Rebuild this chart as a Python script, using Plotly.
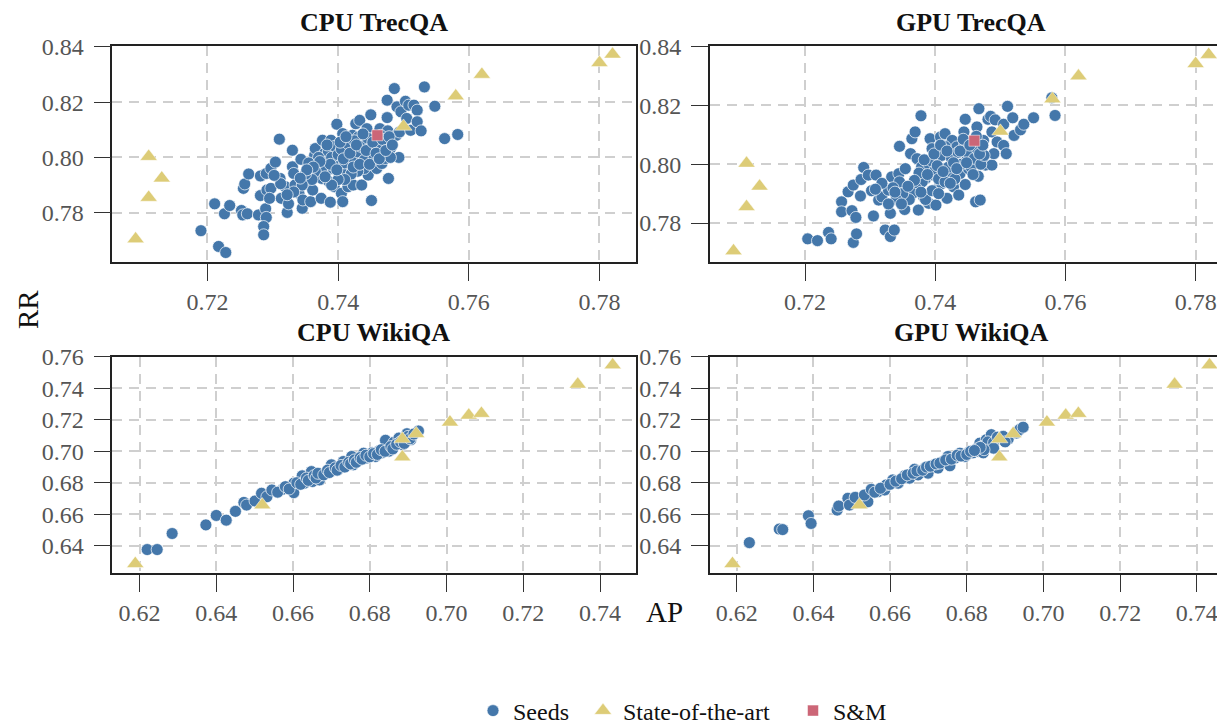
import plotly.graph_objects as go

# ---------------- data (AP, RR) ----------------
cpu_trec_seeds = [
    (0.7190, 0.7735), (0.7217, 0.7678), (0.7228, 0.7656), (0.7211, 0.7832), (0.7226, 0.7796),
    (0.7234, 0.7826), (0.7252, 0.7808), (0.7254, 0.7792), (0.7261, 0.7796), (0.7278, 0.7792),
    (0.7289, 0.7814), (0.7290, 0.7783), (0.7286, 0.7750), (0.7286, 0.7720), (0.7255, 0.7888),
    (0.7257, 0.7904), (0.7263, 0.7940), (0.7281, 0.7862), (0.7281, 0.7933), (0.7290, 0.7942),
    (0.7297, 0.7960), (0.7304, 0.7983), (0.7310, 0.8066), (0.7311, 0.7924), (0.7291, 0.7882),
    (0.7297, 0.7888), (0.7295, 0.7852), (0.7313, 0.7852), (0.7319, 0.7894), (0.7322, 0.7801),
    (0.7324, 0.7832), (0.7330, 0.8026), (0.7330, 0.7966), (0.7332, 0.7942), (0.7334, 0.7900),
    (0.7340, 0.7870), (0.7343, 0.7993), (0.7345, 0.7816), (0.7346, 0.7846), (0.7353, 0.7912),
    (0.7358, 0.7840), (0.7361, 0.7882), (0.7364, 0.8008), (0.7365, 0.8032), (0.7366, 0.7972),
    (0.7369, 0.7936), (0.7374, 0.7852), (0.7375, 0.7924), (0.7376, 0.8062), (0.7379, 0.8014),
    (0.7381, 0.7996), (0.7384, 0.7954), (0.7386, 0.7912), (0.7388, 0.7838), (0.7389, 0.8062),
    (0.7392, 0.7960), (0.7394, 0.7894), (0.7396, 0.8038), (0.7398, 0.8120), (0.7400, 0.7990),
    (0.7402, 0.7948), (0.7405, 0.7870), (0.7407, 0.7840), (0.7407, 0.8086), (0.7410, 0.8008),
    (0.7413, 0.7942), (0.7415, 0.7894), (0.7418, 0.8062), (0.7419, 0.7972), (0.7422, 0.8080),
    (0.7423, 0.7900), (0.7426, 0.8026), (0.7427, 0.8122), (0.7428, 0.7984), (0.7431, 0.8074),
    (0.7433, 0.8134), (0.7436, 0.7900), (0.7437, 0.8050), (0.7439, 0.8008), (0.7441, 0.7966),
    (0.7444, 0.8104), (0.7446, 0.7936), (0.7448, 0.8038), (0.7450, 0.8154), (0.7451, 0.7844),
    (0.7453, 0.7990), (0.7457, 0.8062), (0.7459, 0.7960), (0.7462, 0.8014), (0.7464, 0.8104),
    (0.7467, 0.7978), (0.7470, 0.8050), (0.7472, 0.7996), (0.7475, 0.8144), (0.7475, 0.8207),
    (0.7476, 0.8096), (0.7477, 0.7924), (0.7480, 0.8032), (0.7486, 0.8249), (0.7489, 0.8080),
    (0.7490, 0.8183), (0.7493, 0.8000), (0.7494, 0.8092), (0.7496, 0.8165), (0.7503, 0.8203),
    (0.7505, 0.8141), (0.7508, 0.8189), (0.7511, 0.8098), (0.7516, 0.8189), (0.7521, 0.8171),
    (0.7521, 0.8129), (0.7527, 0.8096), (0.7532, 0.8255), (0.7548, 0.8185), (0.7563, 0.8068),
    (0.7583, 0.8083),
    (0.7380, 0.7990), (0.7385, 0.8020), (0.7390, 0.8000), (0.7395, 0.8040), (0.7400, 0.8010),
    (0.7405, 0.8030), (0.7410, 0.7980), (0.7415, 0.8050), (0.7420, 0.8000), (0.7425, 0.8060),
    (0.7430, 0.8020), (0.7435, 0.8040), (0.7440, 0.7990), (0.7445, 0.8070), (0.7450, 0.8030),
    (0.7455, 0.8000), (0.7460, 0.8040), (0.7465, 0.8080), (0.7470, 0.8010), (0.7475, 0.8060),
    (0.7480, 0.8000), (0.7375, 0.7960), (0.7370, 0.8000), (0.7365, 0.7950), (0.7360, 0.7920),
    (0.7355, 0.7980), (0.7350, 0.7940), (0.7345, 0.7900), (0.7440, 0.7960), (0.7430, 0.7950),
    (0.7420, 0.7940), (0.7410, 0.7920), (0.7400, 0.7920), (0.7390, 0.7900), (0.7380, 0.7930),
    (0.7383, 0.8045), (0.7388, 0.7975), (0.7398, 0.7955), (0.7403, 0.8055), (0.7408, 0.7995),
    (0.7412, 0.8075), (0.7418, 0.8015), (0.7423, 0.7965), (0.7428, 0.8045), (0.7433, 0.7975),
    (0.7438, 0.8085), (0.7443, 0.8025), (0.7448, 0.7975), (0.7453, 0.8055), (0.7458, 0.8015),
    (0.7463, 0.7995), (0.7468, 0.8065), (0.7473, 0.8025), (0.7478, 0.8075), (0.7483, 0.8045),
    (0.7372, 0.7985), (0.7362, 0.7965), (0.7352, 0.7955), (0.7342, 0.7925), (0.7332, 0.7875),
    (0.7322, 0.7865), (0.7312, 0.7905), (0.7302, 0.7935),
]

gpu_trec_seeds = [
    (0.7204, 0.7746), (0.7219, 0.7740), (0.7236, 0.7768), (0.7240, 0.7746), (0.7274, 0.7734),
    (0.7279, 0.7763), (0.7256, 0.7872), (0.7256, 0.7838), (0.7272, 0.7842), (0.7278, 0.7819),
    (0.7266, 0.7906), (0.7274, 0.7929), (0.7285, 0.7892), (0.7286, 0.7948), (0.7290, 0.7989),
    (0.7297, 0.7963), (0.7309, 0.7963), (0.7302, 0.7910), (0.7305, 0.7824), (0.7313, 0.7878),
    (0.7318, 0.7889), (0.7323, 0.7776), (0.7331, 0.7754), (0.7337, 0.7776), (0.7331, 0.7833),
    (0.7328, 0.7912), (0.7333, 0.7957), (0.7344, 0.7968), (0.7354, 0.7985), (0.7353, 0.7846),
    (0.7345, 0.8061), (0.7341, 0.7918), (0.7349, 0.7889), (0.7362, 0.8036), (0.7364, 0.8087),
    (0.7369, 0.8110), (0.7372, 0.8019), (0.7374, 0.7923), (0.7374, 0.7844), (0.7378, 0.8165),
    (0.7379, 0.7991), (0.7382, 0.7889), (0.7385, 0.7951), (0.7390, 0.7867), (0.7392, 0.8087),
    (0.7395, 0.8053), (0.7397, 0.7963), (0.7400, 0.7912), (0.7401, 0.7861), (0.7405, 0.8025),
    (0.7408, 0.8093), (0.7410, 0.7934), (0.7413, 0.7985), (0.7415, 0.8104), (0.7418, 0.7884),
    (0.7421, 0.8036), (0.7423, 0.7963), (0.7426, 0.8081), (0.7428, 0.7923), (0.7431, 0.8002),
    (0.7433, 0.8059), (0.7436, 0.7895), (0.7438, 0.7968), (0.7444, 0.8110), (0.7446, 0.8153),
    (0.7446, 0.7931), (0.7449, 0.8025), (0.7451, 0.7985), (0.7456, 0.8059), (0.7462, 0.7872),
    (0.7464, 0.8127), (0.7467, 0.8189), (0.7466, 0.7959), (0.7469, 0.7878), (0.7472, 0.8025),
    (0.7474, 0.8081), (0.7477, 0.7997), (0.7481, 0.8153), (0.7485, 0.8163), (0.7487, 0.8110),
    (0.7487, 0.7997), (0.7490, 0.8036), (0.7492, 0.8151), (0.7495, 0.8076), (0.7505, 0.8136),
    (0.7505, 0.8064), (0.7509, 0.8036), (0.7511, 0.8197), (0.7519, 0.8158), (0.7521, 0.8098),
    (0.7531, 0.8117), (0.7536, 0.8136), (0.7551, 0.8158), (0.7579, 0.8226), (0.7584, 0.8166),
    (0.7390, 0.8000), (0.7395, 0.8010), (0.7400, 0.7980), (0.7405, 0.7950), (0.7410, 0.8030),
    (0.7415, 0.8060), (0.7420, 0.7990), (0.7425, 0.8020), (0.7430, 0.7950), (0.7435, 0.8040),
    (0.7440, 0.8000), (0.7445, 0.8070), (0.7450, 0.8040), (0.7455, 0.7990), (0.7460, 0.8020),
    (0.7465, 0.8050), (0.7470, 0.8000), (0.7475, 0.8030), (0.7380, 0.7940), (0.7375, 0.7970),
    (0.7370, 0.7920), (0.7365, 0.7900), (0.7360, 0.7880), (0.7350, 0.7900), (0.7345, 0.7940),
    (0.7340, 0.7880), (0.7335, 0.7920), (0.7385, 0.7880), (0.7395, 0.7910), (0.7405, 0.7900),
    (0.7415, 0.7940),
    (0.7383, 0.8015), (0.7388, 0.7965), (0.7398, 0.8035), (0.7403, 0.7995), (0.7408, 0.8065),
    (0.7412, 0.7975), (0.7418, 0.8045), (0.7423, 0.7935), (0.7428, 0.8005), (0.7433, 0.7985),
    (0.7438, 0.8045), (0.7443, 0.8085), (0.7448, 0.8005), (0.7453, 0.8065), (0.7458, 0.7965),
    (0.7463, 0.8095), (0.7468, 0.8035), (0.7473, 0.8065), (0.7378, 0.7905), (0.7368, 0.7945),
    (0.7358, 0.7925), (0.7348, 0.7865), (0.7338, 0.7905), (0.7328, 0.7865), (0.7318, 0.7935),
    (0.7308, 0.7915),
]

trec_sota = [
    (0.7110, 0.8003), (0.7130, 0.7925), (0.7110, 0.7855), (0.7090, 0.7705), (0.7500, 0.8112),
    (0.7580, 0.8222), (0.7620, 0.8300), (0.7800, 0.8342), (0.7820, 0.8373),
]
trec_sm = [(0.7460, 0.8080)]

cpu_wiki_seeds = [
    (0.6220, 0.6375), (0.6246, 0.6375), (0.6285, 0.6477), (0.6373, 0.6532), (0.6400, 0.6592),
    (0.6426, 0.6562), (0.6450, 0.6618), (0.6472, 0.6675), (0.6479, 0.6658), (0.6501, 0.6684),
    (0.6518, 0.6733), (0.6532, 0.6711), (0.6545, 0.6754), (0.6573, 0.6758), (0.6602, 0.6797),
    (0.6602, 0.6737), (0.6624, 0.6844), (0.6629, 0.6797), (0.6648, 0.6871), (0.6651, 0.6808),
    (0.6669, 0.6818), (0.6673, 0.6850), (0.6686, 0.6861), (0.6700, 0.6914), (0.6704, 0.6878),
    (0.6722, 0.6893), (0.6731, 0.6935), (0.6739, 0.6908), (0.6753, 0.6967), (0.6757, 0.6914),
    (0.6770, 0.6946), (0.6784, 0.6988), (0.6792, 0.6957), (0.6806, 0.6990), (0.6815, 0.6967),
    (0.6823, 0.7001), (0.6832, 0.6990), (0.6841, 0.7070), (0.6850, 0.7001), (0.6863, 0.7057),
    (0.6876, 0.7084), (0.6885, 0.7042), (0.6897, 0.7112), (0.6907, 0.7074), (0.6927, 0.7129),
    (0.6560, 0.6740), (0.6580, 0.6775), (0.6590, 0.6760), (0.6610, 0.6800), (0.6620, 0.6790),
    (0.6635, 0.6830), (0.6640, 0.6815), (0.6655, 0.6845), (0.6660, 0.6830), (0.6665, 0.6860),
    (0.6680, 0.6850), (0.6690, 0.6880), (0.6695, 0.6865), (0.6710, 0.6895), (0.6715, 0.6880),
    (0.6725, 0.6910), (0.6735, 0.6900), (0.6745, 0.6930), (0.6750, 0.6920), (0.6760, 0.6945),
    (0.6765, 0.6930), (0.6775, 0.6960), (0.6780, 0.6950), (0.6790, 0.6975), (0.6800, 0.6965),
    (0.6810, 0.6985), (0.6820, 0.6980), (0.6830, 0.7010), (0.6840, 0.7000), (0.6855, 0.7030),
    (0.6860, 0.7015), (0.6870, 0.7045), (0.6880, 0.7060), (0.6890, 0.7050), (0.6900, 0.7095),
    (0.6905, 0.7080), (0.6915, 0.7110),
]

gpu_wiki_seeds = [
    (0.6233, 0.6419), (0.6311, 0.6505), (0.6320, 0.6502), (0.6387, 0.6590), (0.6394, 0.6541),
    (0.6462, 0.6626), (0.6466, 0.6652), (0.6490, 0.6701), (0.6494, 0.6658), (0.6509, 0.6707),
    (0.6542, 0.6679), (0.6533, 0.6722), (0.6551, 0.6758), (0.6568, 0.6743), (0.6586, 0.6754),
    (0.6590, 0.6786), (0.6607, 0.6818), (0.6621, 0.6797), (0.6638, 0.6844), (0.6651, 0.6829),
    (0.6664, 0.6886), (0.6673, 0.6850), (0.6690, 0.6893), (0.6699, 0.6861), (0.6716, 0.6914),
    (0.6725, 0.6893), (0.6738, 0.6935), (0.6751, 0.6967), (0.6756, 0.6908), (0.6769, 0.6957),
    (0.6782, 0.6988), (0.6795, 0.6967), (0.6803, 0.6990), (0.6816, 0.6990), (0.6830, 0.7001),
    (0.6834, 0.7052), (0.6843, 0.6990), (0.6851, 0.7074), (0.6864, 0.7106), (0.6864, 0.7042),
    (0.6877, 0.7074), (0.6890, 0.7084), (0.6908, 0.7078), (0.6930, 0.7116), (0.6938, 0.7138),
    (0.6947, 0.7153),
    (0.6560, 0.6740), (0.6575, 0.6765), (0.6600, 0.6790), (0.6615, 0.6810), (0.6630, 0.6825),
    (0.6645, 0.6850), (0.6660, 0.6860), (0.6670, 0.6875), (0.6685, 0.6880), (0.6695, 0.6900),
    (0.6705, 0.6905), (0.6720, 0.6920), (0.6730, 0.6925), (0.6745, 0.6945), (0.6760, 0.6950),
    (0.6775, 0.6975), (0.6785, 0.6970), (0.6800, 0.6980), (0.6810, 0.7000), (0.6825, 0.7015),
    (0.6840, 0.7030), (0.6850, 0.7040), (0.6855, 0.7060), (0.6870, 0.7055), (0.6880, 0.7090),
    (0.6895, 0.7095), (0.6870, 0.7020), (0.6845, 0.7010), (0.6835, 0.7025), (0.6820, 0.7005),
    (0.6900, 0.7060),
]

wiki_sota = [
    (0.6189, 0.6285), (0.6520, 0.6658), (0.6885, 0.7078), (0.6921, 0.7112), (0.6885, 0.6963),
    (0.7009, 0.7185), (0.7058, 0.7229), (0.7091, 0.7240), (0.7342, 0.7426), (0.7433, 0.7549),
]

panel_titles = ["CPU TrecQA", "GPU TrecQA", "CPU WikiQA", "GPU WikiQA"]
trec_ticks = [0.72, 0.74, 0.76, 0.78]
trec_rr_ticks = [0.78, 0.80, 0.82, 0.84]
wiki_ticks = [0.62, 0.64, 0.66, 0.68, 0.70, 0.72, 0.74]
wiki_rr_ticks = [0.64, 0.66, 0.68, 0.70, 0.72, 0.74, 0.76]

# ---------------- styling ----------------
W, H = 1225, 724
OFF = 8  # default page body margin
FONT = "Liberation Serif"
C_SEED = "#4477AA"
C_SOTA = "#DDCC77"
C_SM = "#CC6677"


def px_x(p):
    return (p - OFF) / W


def px_y(p):
    return 1 - (p - OFF) / H


panels = [
    (cpu_trec_seeds, trec_sota, trec_sm, [px_x(112.3), px_x(636)], [px_y(262), px_y(46)],
     [0.70543, 0.78559], [0.76217, 0.8403], trec_ticks, trec_rr_ticks),
    (gpu_trec_seeds, trec_sota, trec_sm, [px_x(709.7), 1.0], [px_y(262), px_y(46)],
     [0.70534, 0.78574], [0.76673, 0.84024], trec_ticks, trec_rr_ticks),
    (cpu_wiki_seeds, wiki_sota, None, [px_x(112.3), px_x(636)], [px_y(573.3), px_y(356.5)],
     [0.61291, 0.74938], [0.6224, 0.7603], wiki_ticks, wiki_rr_ticks),
    (gpu_wiki_seeds, wiki_sota, None, [px_x(709.7), 1.0], [px_y(573.3), px_y(356.5)],
     [0.61296, 0.74943], [0.6224, 0.7603], wiki_ticks, wiki_rr_ticks),
]

fig = go.Figure()
layout = {}

for i, (seeds, sota, sm, xd, yd, xr, yr, xt, yt) in enumerate(panels):
    n = i + 1
    xa = "x" if n == 1 else f"x{n}"
    ya = "y" if n == 1 else f"y{n}"
    first = (n == 1)
    fig.add_trace(go.Scatter(
        x=[p[0] for p in seeds], y=[p[1] for p in seeds], mode="markers",
        name="Seeds", legend="legend", showlegend=first,
        marker=dict(color=C_SEED, size=12, symbol="circle",
                    line=dict(color="white", width=0.7)),
        xaxis=xa, yaxis=ya))
    fig.add_trace(go.Scatter(
        x=[p[0] for p in sota], y=[p[1] for p in sota], mode="markers",
        name="State-of-the-art", legend="legend2", showlegend=first,
        marker=dict(color=C_SOTA, size=15, symbol="triangle-up",
                    line=dict(color="white", width=0.5)),
        xaxis=xa, yaxis=ya))
    if sm is not None:
        fig.add_trace(go.Scatter(
            x=[p[0] for p in sm], y=[p[1] for p in sm], mode="markers",
            name="S&M", legend="legend3", showlegend=first,
            marker=dict(color=C_SM, size=11, symbol="square",
                        line=dict(color="white", width=0.5)),
            xaxis=xa, yaxis=ya))

    common = dict(
        showgrid=True, gridcolor="#cfcfcf", gridwidth=1.6, griddash="10px,7px",
        zeroline=False, showline=True, linecolor="#222222", linewidth=1.5,
        ticks="outside", ticklen=17, tickwidth=1.3, tickcolor="#333333",
        tickfont=dict(family=FONT, size=24, color="#555555"),
        tickformat=".2f", automargin=False, mirror=True,
    )
    xkey = "xaxis" if n == 1 else f"xaxis{n}"
    ykey = "yaxis" if n == 1 else f"yaxis{n}"
    layout[xkey] = dict(common, domain=xd, range=xr, tickvals=xt, anchor=ya)
    layout[ykey] = dict(common, domain=yd, range=yr, tickvals=yt, anchor=xa,
                        ticklabelstandoff=5)

annotations = []
title_pos = [(374, 22), (971, 22), (374, 333), (971, 333)]
for t, (cx, cy) in zip(panel_titles, title_pos):
    annotations.append(dict(
        text=f"<b>{t}</b>", x=px_x(cx), y=px_y(cy), xref="paper", yref="paper",
        xanchor="center", yanchor="middle", showarrow=False,
        font=dict(family=FONT, size=26, color="#111111")))
annotations.append(dict(
    text="AP", x=px_x(664), y=px_y(612), xref="paper", yref="paper",
    xanchor="center", yanchor="middle", showarrow=False,
    font=dict(family=FONT, size=29, color="#111111")))
annotations.append(dict(
    text="RR", x=px_x(10), y=px_y(310), xref="paper", yref="paper",
    xanchor="left", yanchor="middle", showarrow=False, textangle=-90,
    font=dict(family=FONT, size=29, color="#111111")))

leg_common = dict(orientation="h", xanchor="left", yanchor="middle", y=px_y(711),
                  font=dict(family=FONT, size=24, color="#111111"),
                  bgcolor="rgba(0,0,0,0)", borderwidth=0)

fig.update_layout(
    width=W, height=H,
    margin=dict(l=0, r=0, t=0, b=0, autoexpand=False),
    paper_bgcolor="white", plot_bgcolor="white",
    font=dict(family=FONT, size=24, color="#111111"),
    annotations=annotations,
    legend=dict(leg_common, x=px_x(473)),
    legend2=dict(leg_common, x=px_x(583)),
    legend3=dict(leg_common, x=px_x(793)),
    **layout,
)

fig.write_html("out.html")
